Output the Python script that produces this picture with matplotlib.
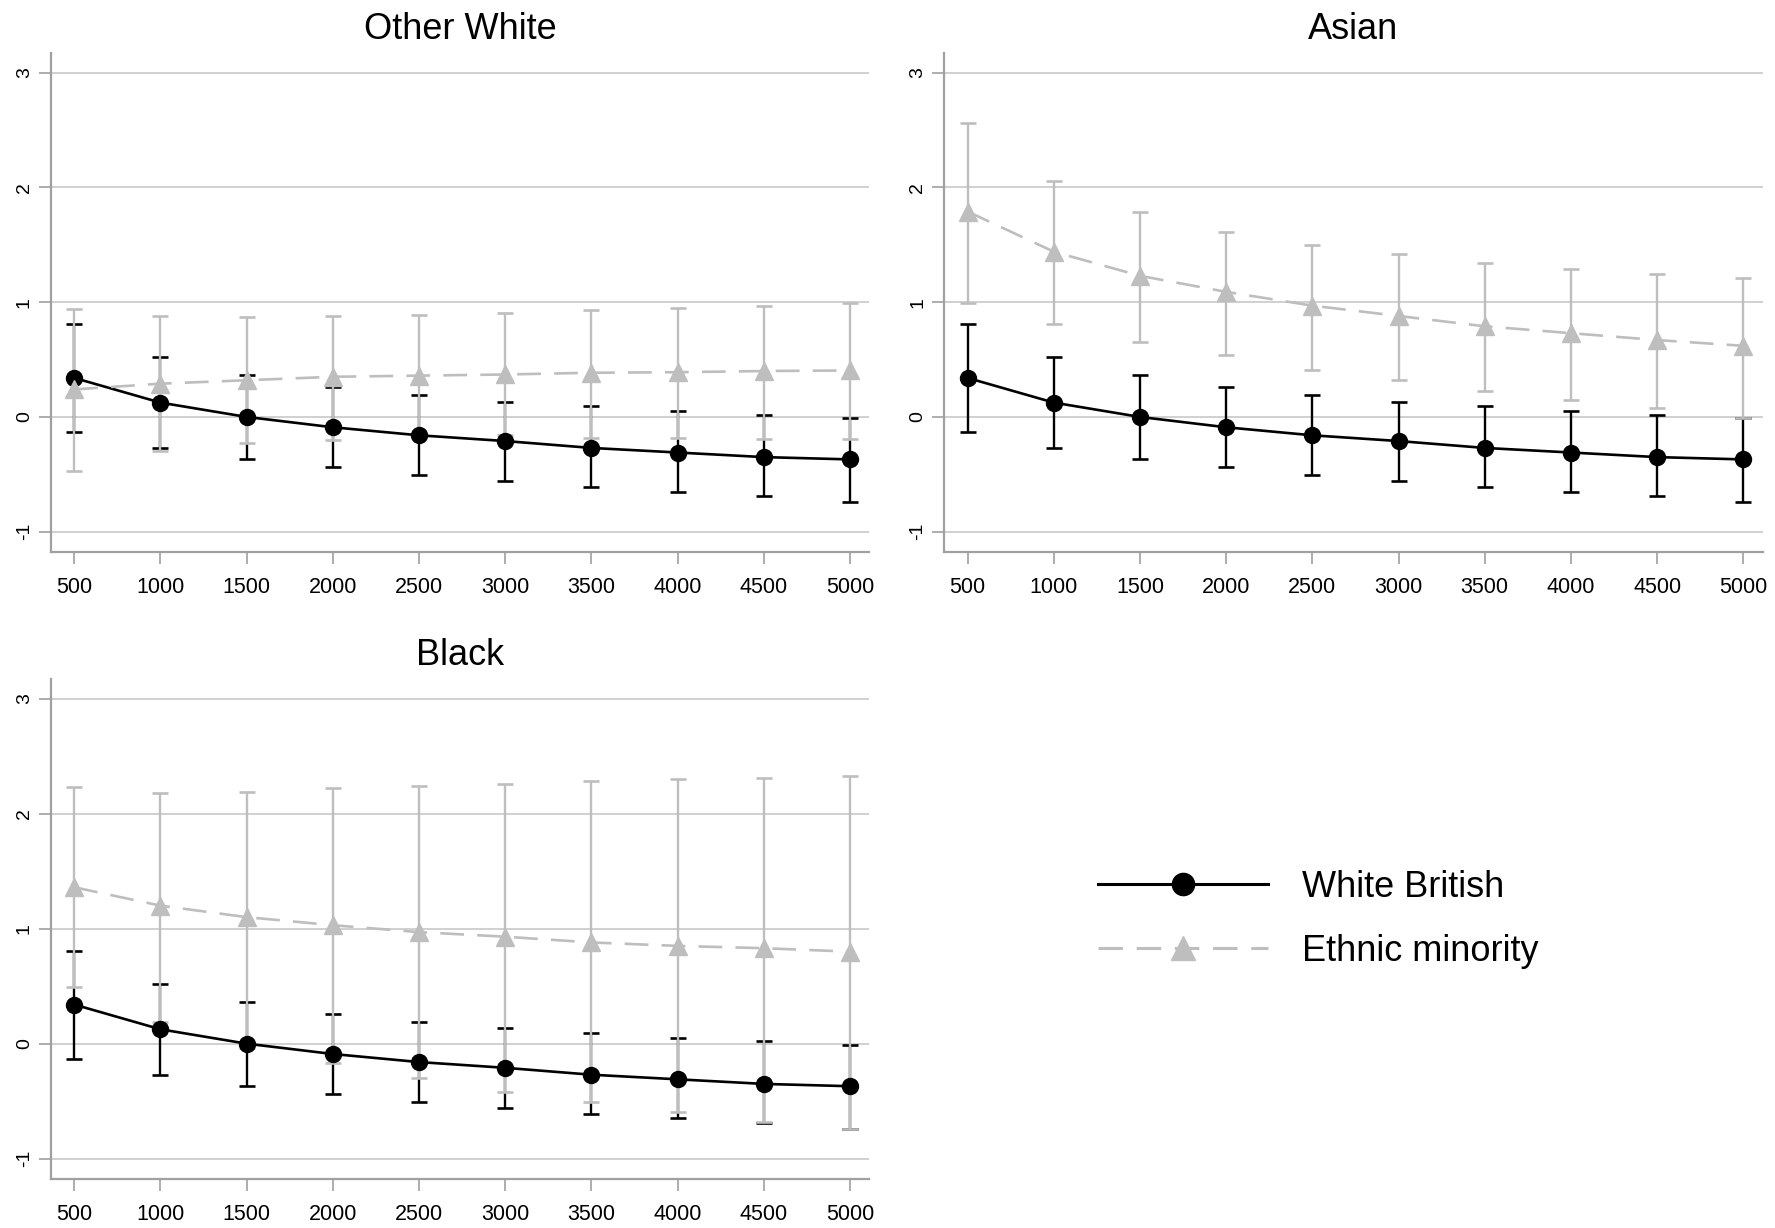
import matplotlib
matplotlib.use("Agg")
import matplotlib.pyplot as plt
from matplotlib.lines import Line2D
import numpy as np

plt.rcParams['font.family'] = ['Liberation Sans', 'DejaVu Sans']

distance = [500, 1000, 1500, 2000, 2500, 3000, 3500, 4000, 4500, 5000]

# White British (same reference series in every panel)
wb_est = [0.34, 0.125, 0.0, -0.09, -0.16, -0.21, -0.27, -0.31, -0.35, -0.37]
wb_lo = [-0.135, -0.27, -0.37, -0.44, -0.505, -0.56, -0.61, -0.65, -0.69, -0.74]
wb_hi = [0.81, 0.52, 0.365, 0.26, 0.19, 0.133, 0.092, 0.05, 0.02, -0.01]

# Ethnic minority, per panel
ow_est = [0.24, 0.29, 0.32, 0.35, 0.36, 0.37, 0.385, 0.39, 0.40, 0.405]
ow_lo = [-0.47, -0.30, -0.23, -0.20, -0.18, -0.16, -0.18, -0.185, -0.19, -0.19]
ow_hi = [0.94, 0.88, 0.87, 0.88, 0.89, 0.91, 0.93, 0.95, 0.97, 0.99]

as_est = [1.79, 1.44, 1.23, 1.09, 0.97, 0.88, 0.79, 0.73, 0.67, 0.62]
as_lo = [0.99, 0.81, 0.65, 0.54, 0.41, 0.32, 0.23, 0.145, 0.075, -0.01]
as_hi = [2.56, 2.06, 1.79, 1.61, 1.50, 1.42, 1.34, 1.29, 1.25, 1.21]

bl_est = [1.36, 1.20, 1.10, 1.03, 0.97, 0.93, 0.88, 0.85, 0.83, 0.80]
bl_lo = [0.49, 0.19, -0.04, -0.17, -0.30, -0.42, -0.51, -0.59, -0.68, -0.74]
bl_hi = [2.23, 2.18, 2.19, 2.22, 2.24, 2.26, 2.28, 2.30, 2.31, 2.33]

panels = [
    ("Other White", ow_est, ow_lo, ow_hi, [0.0287, 0.5502, 0.4611, 0.4065]),
    ("Asian", as_est, as_lo, as_hi, [0.532, 0.5502, 0.461, 0.4065]),
    ("Black", bl_est, bl_lo, bl_hi, [0.0287, 0.0396, 0.4611, 0.4074]),
]

GREY = '#BEBEBE'
SPINE = '#A0A0A0'


def draw_panel(ax, title, est, lo, hi):
    x = np.array(distance)
    wb = np.array(wb_est)
    em = np.array(est)
    ax.errorbar(x, wb, yerr=[wb - np.array(wb_lo), np.array(wb_hi) - wb], fmt='none',
                ecolor='black', elinewidth=1.7, capsize=5.5, capthick=1.9, zorder=3)
    ax.errorbar(x, em, yerr=[em - np.array(lo), np.array(hi) - em], fmt='none',
                ecolor=GREY, elinewidth=1.7, capsize=5.5, capthick=1.9, zorder=4)
    ax.plot(x, wb, color='black', lw=1.9, marker='o', ms=11.5, zorder=5)
    ax.plot(x, em, color=GREY, lw=1.9, ls=(0, (9, 5)), marker='^', ms=13, zorder=6)

    ax.set_xlim(365, 5112)
    ax.set_ylim(-1.18, 3.17)
    ax.set_xticks(distance)
    ax.set_yticks([-1, 0, 1, 2, 3])
    ax.set_yticklabels(['-1', '0', '1', '2', '3'], rotation=90, va='center')
    ax.yaxis.grid(True, color='#C8C8C8', lw=1.2)
    ax.set_axisbelow(True)
    for s in ['top', 'right']:
        ax.spines[s].set_visible(False)
    for s in ['left', 'bottom']:
        ax.spines[s].set_color(SPINE)
        ax.spines[s].set_linewidth(1.6)
    ax.tick_params(axis='x', length=8.5, width=1.2, color=SPINE, labelsize=15.5, pad=9)
    ax.tick_params(axis='y', length=9, width=1.2, color=SPINE, labelsize=14, pad=4)
    ax.set_title(title, fontsize=26, pad=10)


fig = plt.figure(figsize=(17.75, 12.28), dpi=100)
for title, est, lo, hi, rect in panels:
    ax = fig.add_axes(rect)
    draw_panel(ax, title, est, lo, hi)

handles = [
    Line2D([], [], color='black', lw=2.2, marker='o', ms=16),
    Line2D([], [], color=GREY, lw=2.2, ls=(0, (8, 4.5)), marker='^', ms=17),
]
fig.legend(handles, ['White British', 'Ethnic minority'], loc='center left',
           bbox_to_anchor=(0.6186, 0.2512), frameon=False, fontsize=26,
           handlelength=4.7, handletextpad=0.95, labelspacing=0.8,
           borderpad=0, borderaxespad=0)

fig.savefig("out.png", dpi=100)
